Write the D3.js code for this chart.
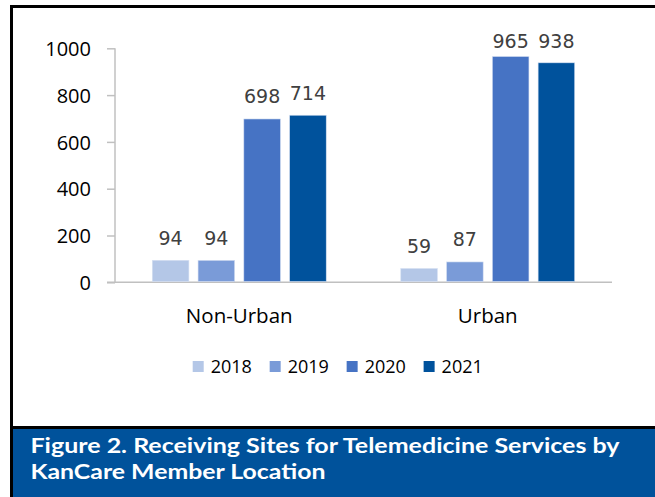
<!DOCTYPE html>
<html>
<head>
<meta charset="utf-8">
<script src="https://cdn.jsdelivr.net/npm/d3@7"></script>
<style>
  body { margin: 0; background: #fff; }
  svg { display: block; }
</style>
</head>
<body>
<div id="chart"></div>
<script>
// data
const locations = ["Non-Urban", "Urban"];
const years = ["2018", "2019", "2020", "2021"];
const nonUrban = [94, 94, 698, 714];
const urban = [59, 87, 965, 938];
const yTicks = [0, 200, 400, 600, 800, 1000];
const colors = ["#b4c7e7", "#7a9bd8", "#4673c4", "#00529c"];
const titleLines = ["Figure 2. Receiving Sites for Telemedicine Services by", "KanCare Member Location"];

const W = 655, H = 497;
const plot = {left: 115, right: 612, top: 48.3, bottom: 282.3};

const svg = d3.select("#chart").append("svg")
  .attr("width", W)
  .attr("height", H);

svg.append("rect").attr("width", W).attr("height", H).attr("fill", "#fff");

// frame + title band
svg.append("rect").attr("x", 13).attr("y", 428).attr("width", W - 13).attr("height", H - 428).attr("fill", "#00529b");
svg.append("rect").attr("x", 10).attr("y", 5).attr("width", 3).attr("height", H - 5).attr("fill", "#000");
svg.append("rect").attr("x", 10).attr("y", 5).attr("width", W - 10).attr("height", 3).attr("fill", "#000");
svg.append("rect").attr("x", 10).attr("y", 426).attr("width", W - 10).attr("height", 3).attr("fill", "#000");

const rows = locations.map((loc, i) => ({
  loc: loc,
  values: [nonUrban, urban][i].map((v, j) => ({year: years[j], value: v}))
}));

// scales
const x0 = d3.scaleBand()
  .domain(locations)
  .range([plot.left, plot.right])
  .paddingInner(0.3)
  .paddingOuter(0.15);

const x1 = d3.scaleBand()
  .domain(years)
  .range([0, x0.bandwidth()])
  .paddingInner(0.2);

const y = d3.scaleLinear()
  .domain([0, 1000])
  .range([plot.bottom, plot.top]);

const color = d3.scaleOrdinal().domain(years).range(colors);

// y axis
const yAxis = svg.append("g")
  .attr("transform", `translate(${plot.left},0)`)
  .call(d3.axisLeft(y).tickValues(yTicks).tickSize(8).tickPadding(16).tickFormat(d3.format("d")));
yAxis.select(".domain").attr("stroke", "#c0c0c0").attr("stroke-width", 1.5).attr("d", `M0,${plot.top}V${plot.bottom}`);
yAxis.selectAll(".tick line").attr("stroke", "#c0c0c0").attr("stroke-width", 1.5);
yAxis.selectAll(".tick text")
  .attr("fill", "#000")
  .style("font-family", "'Open Sans', sans-serif")
  .style("font-size", "20px")
  .attr("dy", "0.36em");

// baseline
svg.append("line")
  .attr("x1", plot.left - 8).attr("x2", plot.right)
  .attr("y1", y(0)).attr("y2", y(0))
  .attr("stroke", "#c0c0c0").attr("stroke-width", 1.5);

// bars
const groups = svg.selectAll("g.loc")
  .data(rows)
  .enter().append("g")
  .attr("class", "loc")
  .attr("transform", d => `translate(${x0(d.loc)},0)`);

groups.selectAll("rect")
  .data(d => d.values)
  .enter().append("rect")
  .attr("x", d => x1(d.year))
  .attr("y", d => y(d.value))
  .attr("width", x1.bandwidth())
  .attr("height", d => y(0) - y(d.value) - 0.75)
  .attr("fill", d => color(d.year))
  .attr("stroke", "#d6e0f2")
  .attr("stroke-width", 0.6);

// value labels (kept inside the plot at the top)
groups.selectAll("text.val")
  .data(d => d.values)
  .enter().append("text")
  .attr("class", "val")
  .attr("x", d => x1(d.year) + x1.bandwidth() / 2)
  .attr("y", d => Math.max(y(d.value) - 15.5, plot.top))
  .attr("text-anchor", "middle")
  .attr("fill", "#404040")
  .style("font-family", "'DejaVu Sans', sans-serif")
  .style("font-size", "19px")
  .text(d => d.value);

// category labels
svg.selectAll("text.cat")
  .data(locations)
  .enter().append("text")
  .attr("class", "cat")
  .attr("x", d => x0(d) + x0.bandwidth() / 2)
  .attr("y", 323)
  .attr("text-anchor", "middle")
  .attr("fill", "#000")
  .style("font-family", "'Open Sans', sans-serif")
  .style("font-size", "20.5px")
  .text(d => d);

// legend
const legend = svg.append("g").attr("transform", "translate(192.7,0)");
let lx = 0;
years.forEach(yr => {
  const item = legend.append("g").attr("transform", `translate(${lx},0)`);
  item.append("rect")
    .attr("x", 0).attr("y", 361)
    .attr("width", 11).attr("height", 11)
    .attr("fill", color(yr));
  const t = item.append("text")
    .attr("x", 18).attr("y", 373)
    .attr("fill", "#000")
    .style("font-family", "'Open Sans', sans-serif")
    .style("font-size", "18px")
    .text(yr);
  lx += 18 + t.node().getComputedTextLength() + 17.8;
});

// title
svg.selectAll("text.title")
  .data(titleLines)
  .enter().append("text")
  .attr("class", "title")
  .attr("x", 30.5)
  .attr("y", (d, i) => 453.3 + i * 26)
  .attr("fill", "#fff")
  .style("font-family", "Lato, sans-serif")
  .style("font-weight", "bold")
  .style("font-size", "20.5px")
  .attr("textLength", (d, i) => i === 0 ? 589 : 295)
  .attr("lengthAdjust", "spacingAndGlyphs")
  .text(d => d);
</script>
</body>
</html>
